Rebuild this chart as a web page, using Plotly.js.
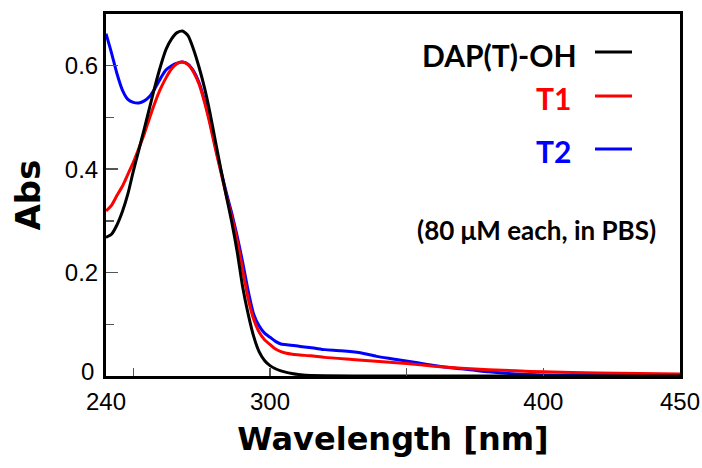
<!DOCTYPE html>
<html>
<head>
<meta charset="utf-8">
<script src="https://cdn.plot.ly/plotly-3.0.1.min.js"></script>
<style>html,body{margin:0;padding:0;background:#fff;}#chart{width:702px;height:468px;}</style>
</head>
<body>
<div id="chart"></div>
<script>
// Wavelength grids (nm) and absorbance values
const wlDAP = [240,242,244,246,248,250,252,254,256,258,260,262,264,266,268,270,272,274,276,278,280,282,284,286,288,290,292,294,296,298,300,302,304,306,308,312,320,340,380,420,450];
const absDAP = [0.268,0.274,0.292,0.318,0.352,0.396,0.437,0.478,0.520,0.562,0.600,0.632,0.652,0.664,0.667,0.658,0.632,0.598,0.558,0.510,0.455,0.400,0.348,0.298,0.240,0.172,0.120,0.077,0.047,0.030,0.020,0.014,0.010,0.007,0.005,0.002,0.0005,0,0,0,0];

const wlT1 = [240,242,244,246,248,250,252,254,256,258,260,262,264,266,268,270,272,274,276,278,280,282,284,286,288,290,292,294,296,298,300,302,304,306,310,315,320,330,340,350,360,370,380,390,400,420,450];
const absT1 = [0.319,0.330,0.349,0.367,0.390,0.413,0.440,0.468,0.500,0.530,0.556,0.577,0.594,0.604,0.607,0.602,0.588,0.565,0.530,0.488,0.440,0.395,0.350,0.308,0.262,0.205,0.150,0.110,0.085,0.070,0.061,0.052,0.047,0.044,0.041,0.039,0.036,0.032,0.028,0.024,0.019,0.015,0.012,0.010,0.008,0.006,0.004];

const wlT2 = [240,242,244,246,248,250,252,254,256,258,260,262,264,266,268,270,272,274,276,278,280,282,284,286,288,290,292,294,296,298,300,302,304,307,311,316,320,326,333,339,345,351,357,363,370,375,380,390,400,420,450];
const absT2 = [0.662,0.625,0.585,0.553,0.535,0.529,0.528,0.532,0.541,0.557,0.576,0.592,0.600,0.605,0.607,0.603,0.590,0.568,0.534,0.492,0.444,0.398,0.355,0.315,0.270,0.220,0.165,0.120,0.097,0.083,0.075,0.067,0.062,0.060,0.057,0.054,0.051,0.049,0.045,0.038,0.033,0.028,0.023,0.018,0.014,0.011,0.008,0.004,0.002,0.001,0];

const seriesNames = ['DAP(T)-OH','T1','T2'];
const seriesColors = ['#000000','#ff0000','#0000ff'];
const xTickVals = [240,300,400,450];
const xTickText = ['240','300','400','450'];
const yTickVals = [0.2,0.4,0.6];
const yTickText = ['0.2','0.4','0.6'];
const yZeroLabel = '0';

const W = 702, H = 468;
const M = {l:106, r:22, t:14, b:92};
const pw = W - M.l - M.r, ph = H - M.t - M.b;
const px = x => (x - M.l) / pw;
const py = y => (H - M.b - y) / ph;

const xs = [wlDAP, wlT1, wlT2];
const ys = [absDAP, absT1, absT2];
const traces = seriesNames.map((n,i)=>({
  x: xs[i], y: ys[i], name: n, type:'scatter', mode:'lines',
  line:{color:seriesColors[i], width:3, shape:'spline', smoothing:0.6},
  hoverinfo:'skip'
}));
const data = [traces[2], traces[1], traces[0]];

const legendY = [55, 98, 151];
const legendTextRight = [579, 573, 573];
const legendLineY = [52, 96, 149];
const annotations = seriesNames.map((n,i)=>({
  xref:'paper', yref:'paper', x:px(legendTextRight[i]), y:py(legendY[i]),
  xanchor:'right', yanchor:'middle', showarrow:false, text:n,
  font:{family:'Lato', size:30, color:seriesColors[i], weight:'bold'}
}));
annotations.push({
  xref:'paper', yref:'paper', x:px(536), y:py(230), xanchor:'center', yanchor:'middle',
  showarrow:false, text:'(80 μM each, in PBS)',
  font:{family:'Lato', size:26, color:'#000', weight:'bold'}
});
// y-axis "0" label, sitting slightly above the axis as in the reference
annotations.push({
  xref:'paper', yref:'y', x:px(96), y:0, yshift:5, xanchor:'right', yanchor:'middle',
  showarrow:false, text:yZeroLabel,
  font:{family:'Liberation Sans, Arial', size:24, color:'#000'}
});
const shapes = seriesNames.map((n,i)=>({
  type:'line', xref:'paper', yref:'paper', x0:px(595), x1:px(632), y0:py(legendLineY[i]), y1:py(legendLineY[i]),
  line:{color:seriesColors[i], width:3}
}));

const layout = {
  width:W, height:H, margin:M, paper_bgcolor:'#fff', plot_bgcolor:'#fff',
  showlegend:false,
  font:{family:'Liberation Sans, Arial', color:'#000'},
  xaxis:{
    range:[240,450], showline:true, linewidth:3, linecolor:'#000', mirror:true,
    showgrid:false, zeroline:false,
    tickmode:'array', tickvals:xTickVals, ticktext:xTickText,
    ticks:'inside', ticklen:8, tickwidth:1.5, tickcolor:'#555',
    ticklabelstandoff:2,
    tickfont:{size:24, family:'Liberation Sans, Arial'},
    minor:{tickmode:'array', tickvals:[250,350], ticks:'inside', ticklen:8, tickwidth:1.5, tickcolor:'#555'},
    title:{text:'Wavelength [nm]', font:{family:'DejaVu Sans', size:32, weight:'bold'}, standoff:14}
  },
  yaxis:{
    range:[0,0.7], showline:true, linewidth:3, linecolor:'#000', mirror:true,
    showgrid:false, zeroline:false,
    tickmode:'array', tickvals:yTickVals, ticktext:yTickText,
    ticks:'inside', ticklen:12, tickwidth:1.5, tickcolor:'#555',
    tickfont:{size:24, family:'Liberation Sans, Arial'},
    minor:{tickmode:'array', tickvals:[0.1,0.3,0.5], ticks:'inside', ticklen:8, tickwidth:1.5, tickcolor:'#555'},
    title:{text:'Abs', font:{family:'DejaVu Sans', size:34, weight:'bold'}, standoff:14}
  },
  annotations: annotations,
  shapes: shapes
};
Plotly.newPlot('chart', data, layout, {displayModeBar:false, staticPlot:true});
</script>
</body>
</html>
